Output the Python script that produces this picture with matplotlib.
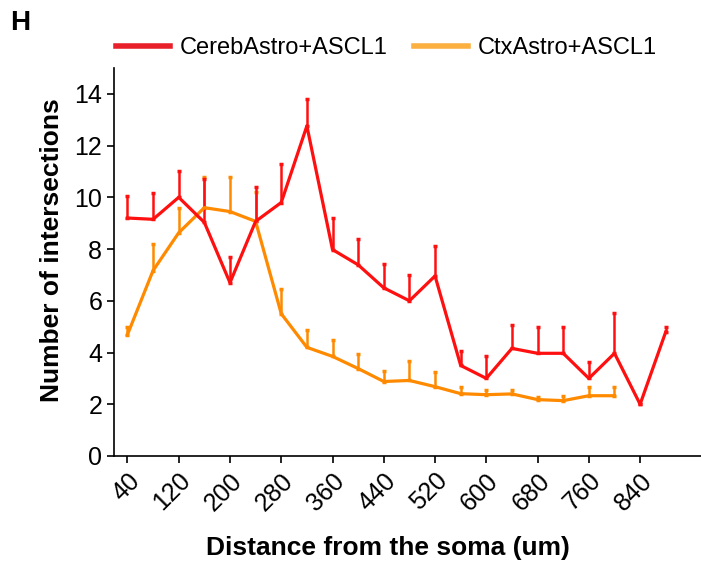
import numpy as np
import matplotlib
matplotlib.use('Agg')
import matplotlib.pyplot as plt
from matplotlib.lines import Line2D

plt.rcParams['font.family'] = ['Liberation Sans', 'DejaVu Sans']

# distances (um)
dist_cereb = [40, 80, 120, 160, 200, 240, 280, 320, 360, 400, 440,
              480, 520, 560, 600, 640, 680, 720, 760, 800, 840, 880]
dist_ctx = [40, 80, 120, 160, 200, 240, 280, 320, 360, 400, 440,
            480, 520, 560, 600, 640, 680, 720, 760, 800]

# mean number of intersections (upper error bars only)
cereb_mean = [9.2, 9.15, 10.0, 9.03, 6.7, 9.07, 9.8, 12.76, 7.98, 7.39, 6.5,
              6.0, 6.96, 3.5, 3.0, 4.16, 3.97, 3.97, 3.0, 3.97, 2.0, 4.8]
cereb_err = [0.85, 1.0, 1.0, 1.67, 1.0, 1.33, 1.48, 1.04, 1.22, 1.01, 0.93,
             1.0, 1.14, 0.55, 0.85, 0.9, 1.03, 1.01, 0.62, 1.55, 0.0, 0.18]
ctx_mean = [4.69, 7.17, 8.63, 9.6, 9.45, 9.07, 5.5, 4.2, 3.85, 3.38, 2.88,
            2.92, 2.68, 2.41, 2.37, 2.4, 2.18, 2.14, 2.33, 2.33]
ctx_err = [0.31, 1.03, 0.97, 1.2, 1.33, 1.13, 0.97, 0.66, 0.62, 0.55, 0.42,
           0.74, 0.55, 0.27, 0.2, 0.17, 0.12, 0.19, 0.32, 0.32]

xticks = [40, 120, 200, 280, 360, 440, 520, 600, 680, 760, 840]
yticks = [0, 2, 4, 6, 8, 10, 12, 14]

red = '#ff1010'
orange = '#ff8a00'

fig = plt.figure(figsize=(7.01, 5.69), dpi=100)
ax = fig.add_axes([0.1626, 0.1986, 0.8374, 0.6819])

ax.errorbar(dist_ctx, ctx_mean, yerr=[np.zeros(len(ctx_err)), ctx_err],
            color=orange, lw=2.3, elinewidth=1.8, capsize=1.5, capthick=2.5)
ax.errorbar(dist_cereb, cereb_mean, yerr=[np.zeros(len(cereb_err)), cereb_err],
            color=red, lw=2.3, elinewidth=1.8, capsize=1.5, capthick=2.5)

ax.set_xlim(19, 935)
ax.set_ylim(0, 15)
ax.set_xticks(xticks)
ax.set_xticklabels([str(v) for v in xticks], rotation=45, ha='right', va='top',
                   rotation_mode='anchor')
ax.set_yticks(yticks)
ax.tick_params(axis='both', direction='out', length=5, width=1.2, labelsize=18)
ax.tick_params(axis='x', pad=4)
for s in ['top', 'right']:
    ax.spines[s].set_visible(False)
for s in ['left', 'bottom']:
    ax.spines[s].set_linewidth(1.2)

ax.set_ylabel('Number of intersections', fontsize=19, fontweight='bold')
ax.yaxis.set_label_coords(-0.085, 0.53)
fig.text(0.553, 0.037, 'Distance from the soma (um)', fontsize=19, fontweight='bold',
         ha='center', va='center')

handles = [Line2D([], [], color='#e8202a', lw=4),
           Line2D([], [], color='#fbb040', lw=4)]
fig.legend(handles, ['CerebAstro+ASCL1', 'CtxAstro+ASCL1'], loc='center',
           bbox_to_anchor=(0.551, 0.915), ncol=2, frameon=False, fontsize=17,
           handlelength=2.3, handletextpad=0.4, columnspacing=1.1)

fig.text(0.014, 0.96, 'H', fontsize=20, fontweight='bold', ha='left', va='center')

fig.savefig('out.png', dpi=100)
